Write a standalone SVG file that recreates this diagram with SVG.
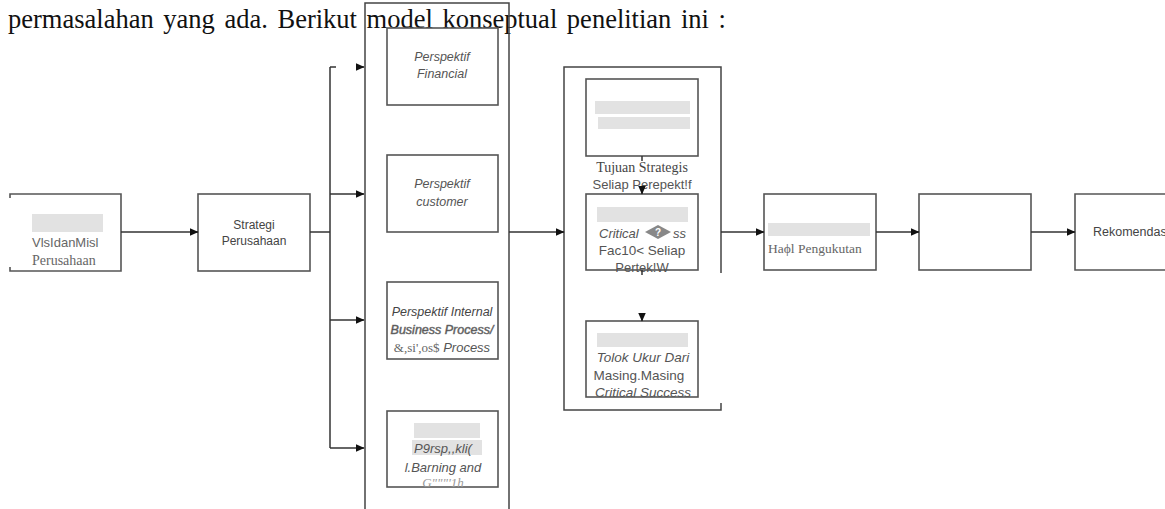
<svg xmlns="http://www.w3.org/2000/svg" width="1165" height="509" viewBox="0 0 1165 509">
<defs>
<marker id="ah" markerWidth="9" markerHeight="8" refX="8.5" refY="4" orient="auto" markerUnits="userSpaceOnUse">
<path d="M0,0 L9,4 L0,8 Z" fill="#111"/>
</marker>
<style>
.box{fill:#fff;stroke:#555;stroke-width:1.6}
.ln{fill:none;stroke:#444;stroke-width:1.5}
.cn{fill:none;stroke:#333;stroke-width:1.5}
.blk{fill:#e2e2e2}
.s{font-family:"Liberation Sans",Arial,sans-serif;font-size:12px;fill:#555}
.si{font-family:"Liberation Sans",Arial,sans-serif;font-size:12.5px;font-style:italic;fill:#555}
.sr{font-family:"Liberation Serif","Times New Roman",serif;font-size:14px;fill:#666}
.hd{font-family:"Liberation Serif","Times New Roman",serif;font-size:26.5px;fill:#111;word-spacing:3px}
</style>
</defs>
<rect width="1165" height="509" fill="#fff"/>
<text class="hd" x="8" y="28">permasalahan yang ada. Berikut model konseptual penelitian ini :</text>

<g id="containers">
<path class="ln" d="M365,515 V3 H509 V515"/>
<path class="ln" d="M721,273 V67 H564 V410 H721 V403"/>
</g>

<g id="visi">
<path class="box" d="M10,198 V194 H121 V271 H10 V267" fill="none"/>
<rect class="blk" x="32" y="214" width="71" height="18"/>
<text class="s" x="32" y="247" style="font-size:13px;fill:#666">VlsIdanMisl</text>
<text class="sr" x="32" y="265">Perusahaan</text>
</g>

<g id="strategi">
<rect class="box" x="198" y="194" width="112" height="77"/>
<text class="s" x="254" y="229" text-anchor="middle" style="fill:#444">Strategi</text>
<text class="s" x="254" y="245" text-anchor="middle" style="fill:#444">Perusahaan</text>
</g>

<g id="p-financial">
<rect class="box" x="387" y="28" width="111" height="77"/>
<text class="si" x="442" y="61" text-anchor="middle">Perspektif</text>
<text class="si" x="442" y="78" text-anchor="middle">Financial</text>
</g>

<g id="p-customer">
<rect class="box" x="387" y="155" width="111" height="77"/>
<text class="si" x="442" y="188" text-anchor="middle">Perspektif</text>
<text class="si" x="442" y="206" text-anchor="middle">customer</text>
</g>

<g id="p-internal">
<rect class="box" x="387" y="282" width="111" height="77"/>
<text class="si" x="442" y="316" text-anchor="middle" style="fill:#444">Perspektif Internal</text>
<text class="si" x="442" y="334" text-anchor="middle" style="fill:#444;stroke:#777;stroke-width:0.5">Business Process/</text>
<text x="442" y="352" text-anchor="middle"><tspan class="sr" style="font-size:13px">&amp;,si',os$</tspan><tspan class="si" style="font-size:13px"> Process</tspan></text>
</g>

<g id="p-learning">
<rect class="box" x="387" y="411" width="111" height="76"/>
<rect class="blk" x="414" y="423" width="66" height="15"/>
<rect class="blk" x="412" y="440" width="70" height="15"/>
<text class="si" x="443" y="453" text-anchor="middle" style="font-size:13px">P9rsp,,kli(</text>
<text class="si" x="443" y="472" text-anchor="middle" style="font-size:13px">l.Barning and</text>
<text class="sr" x="443" y="487" text-anchor="middle" style="font-style:italic;fill:#999;font-size:13px">G"""'1h</text>
</g>

<g id="tujuan">
<rect class="box" x="586" y="79" width="112" height="77"/>
<rect class="blk" x="595" y="101" width="95" height="13"/>
<rect class="blk" x="598" y="117" width="92" height="12"/>
<text class="sr" x="642" y="172" text-anchor="middle" style="fill:#444">Tujuan Strategis</text>
<text class="s" x="642" y="189" text-anchor="middle" style="font-size:13px;fill:#555">Seliap Perepekt!f</text>
</g>

<g id="csf">
<rect class="box" x="586" y="194" width="112" height="76"/>
<rect class="blk" x="597" y="207" width="91" height="15"/>
<text class="si" x="599" y="238" style="font-size:13px">Critical</text>
<polygon points="645,232 658,225 671,232 658,239" fill="#888"/>
<text class="s" x="658" y="236" text-anchor="middle" style="font-size:10px;fill:#fff;font-weight:bold">?</text>
<text class="si" x="673" y="238" style="font-size:13px">ss</text>
<text class="s" x="642" y="255" text-anchor="middle" style="font-size:13.5px">Fac10&lt; Seliap</text>
<text class="s" x="642" y="272" text-anchor="middle" style="font-size:13px">Pertek!W</text>
</g>

<g id="tolok">
<rect class="box" x="586" y="321" width="112" height="76"/>
<rect class="blk" x="597" y="333" width="91" height="14"/>
<text class="si" x="643" y="362" text-anchor="middle" style="font-size:13.5px">Tolok Ukur Dari</text>
<text class="s" x="639" y="380" text-anchor="middle" style="font-size:13.5px">Masing.Masing</text>
<text class="si" x="643" y="397" text-anchor="middle" style="font-size:13.5px">Critical Success</text>
</g>

<g id="hasil">
<rect class="box" x="764" y="194" width="112" height="76"/>
<rect class="blk" x="768" y="223" width="102" height="13"/>
<text class="sr" x="768" y="253" style="font-size:13.5px">Haϕl Pengukutan</text>
</g>

<g id="empty">
<rect class="box" x="919" y="194" width="112" height="76"/>
</g>

<g id="rekomendasi">
<path class="box" d="M1170,194 H1075 V270 H1170"/>
<text class="s" x="1093" y="236" style="fill:#444;font-size:12.5px">Rekomendas</text>
</g>

<g id="connectors">
<line class="cn" x1="121" y1="232" x2="198" y2="232" marker-end="url(#ah)"/>
<line class="cn" x1="310" y1="232" x2="330" y2="232"/>
<line class="cn" x1="330" y1="67" x2="330" y2="448"/>
<line class="cn" x1="330" y1="67" x2="336" y2="67"/>
<line class="cn" x1="359" y1="67" x2="364" y2="67" marker-end="url(#ah)"/>
<line class="cn" x1="330" y1="194" x2="364" y2="194" marker-end="url(#ah)"/>
<line class="cn" x1="330" y1="320" x2="364" y2="320" marker-end="url(#ah)"/>
<line class="cn" x1="330" y1="448" x2="364" y2="448" marker-end="url(#ah)"/>
<line class="cn" x1="509" y1="232" x2="564" y2="232" marker-end="url(#ah)"/>
<line class="cn" x1="642" y1="156" x2="642" y2="161"/>
<line class="cn" x1="642" y1="187" x2="642" y2="194" marker-end="url(#ah)"/>
<line class="cn" x1="642" y1="270" x2="642" y2="275"/>
<line class="cn" x1="642" y1="313" x2="642" y2="321" marker-end="url(#ah)"/>
<line class="cn" x1="721" y1="232" x2="764" y2="232" marker-end="url(#ah)"/>
<line class="cn" x1="876" y1="232" x2="919" y2="232" marker-end="url(#ah)"/>
<line class="cn" x1="1031" y1="232" x2="1075" y2="232" marker-end="url(#ah)"/>
</g>
</svg>
